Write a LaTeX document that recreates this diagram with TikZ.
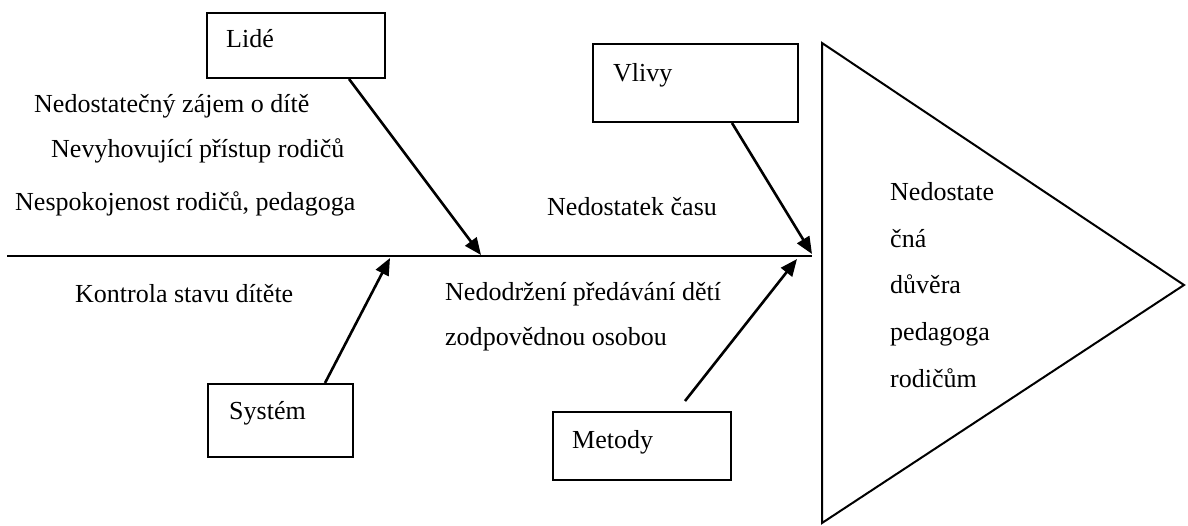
\documentclass[tikz,border=0pt]{standalone}
\usepackage{fontspec}
\setmainfont{Liberation Serif}
\usetikzlibrary{arrows.meta,calc}
\begin{document}
\begin{tikzpicture}[x=1pt,y=-1pt,
  every node/.style={font=\fontsize{26}{30}\selectfont},
  catbox/.style={draw,line width=2pt,rectangle,inner sep=0pt,anchor=north west},
  txt/.style={anchor=base west,inner sep=0pt},
  bone/.style={line width=2.6pt,-{Triangle[length=17pt,width=14pt]}},
  spine/.style={line width=2pt}]
\useasboundingbox (0,0) rectangle (1188,525);

% category boxes
\node[catbox,minimum width=178pt,minimum height=65pt] (lide) at (206,12) {};
\node[catbox,minimum width=205pt,minimum height=78pt] (vlivy) at (592,43) {};
\node[catbox,minimum width=145pt,minimum height=73pt] (system) at (207,383) {};
\node[catbox,minimum width=178pt,minimum height=68pt] (metody) at (552,411) {};

\node[txt] (lideT) at (226,47) {Lidé};
\node[txt] (vlivyT) at (613,81) {Vlivy};
\node[txt] (systemT) at (229,419) {Systém};
\node[txt] (metodyT) at (572,448) {Metody};

% spine
\coordinate (spineL) at (7,256);
\coordinate (spineR) at (812,256);
\draw[spine] (spineL) -- (spineR);

% arrow targets on the spine
\coordinate (lideTip) at (481,255);
\coordinate (vlivyTip) at (812,254);
\coordinate (systemTip) at (390,258);
\coordinate (metodyTip) at (797,259);

\draw[bone] ([xshift=-37pt]lide.south east) -- (lideTip);
\draw[bone] ([xshift=-67pt]vlivy.south east) -- (vlivyTip);
\draw[bone] ([xshift=-29pt]system.north east) -- (systemTip);
\draw[bone] ([xshift=-47pt,yshift=10pt]metody.north east) -- (metodyTip);

% effect head
\draw[line width=2pt,line join=miter] (822,43) -- (1184,285) -- (822,523) -- cycle;
\node[txt] (eff1) at (890,200) {Nedostate};
\node[txt] (eff2) at (890,247) {čná};
\node[txt] (eff3) at (890,293) {důvěra};
\node[txt] (eff4) at (890,340) {pedagoga};
\node[txt] (eff5) at (890,387) {rodičům};

% causes
\node[txt] (c1) at (34,112) {Nedostatečný zájem o dítě};
\node[txt] (c2) at (51,157) {Nevyhovující přístup rodičů};
\node[txt] (c3) at (15,210) {Nespokojenost rodičů, pedagoga};
\node[txt] (c4) at (547,215) {Nedostatek času};
\node[txt] (c5) at (75,302) {Kontrola stavu dítěte};
\node[txt] (c6) at (445,300) {Nedodržení předávání dětí};
\node[txt] (c7) at (445,345) {zodpovědnou osobou};
\end{tikzpicture}
\end{document}
